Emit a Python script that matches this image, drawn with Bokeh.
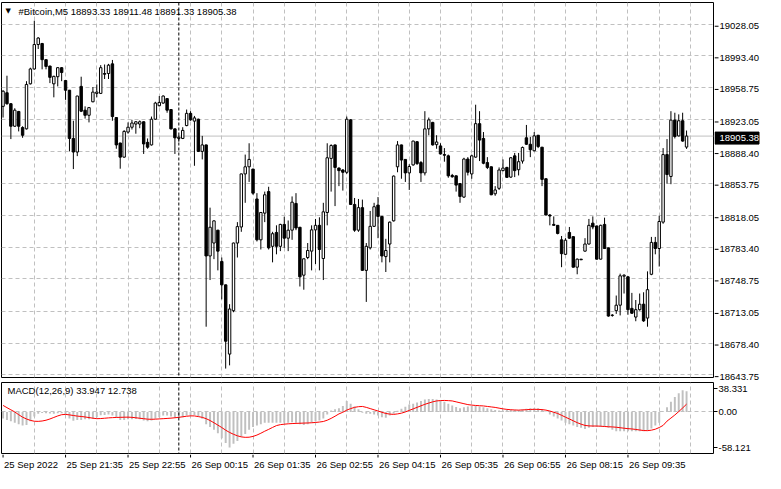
import datetime as dt
from bokeh.plotting import figure
from bokeh.layouts import column, row
from bokeh.models import (Range1d, FixedTicker, Span, Label, ColumnDataSource,
                          CustomJSTickFormatter)
from bokeh.core.properties import value
from bokeh.embed import file_html
from bokeh.resources import INLINE

# ---------------- data ----------------
symbol = "#Bitcoin,M5"
first_bar = dt.datetime(2022, 9, 25, 20, 15)
bar_minutes = 5

opens = [18938.0, 18952.9, 18940.9, 18916.2, 18932.4, 18914.7, 18913.3, 18962.7, 18979.0, 19005.8,
         19006.9, 18989.2, 18982.2, 18962.7, 18970.5, 18980.4, 18966.3, 18955.7, 18902.8, 18887.9,
         18959.9, 18933.8, 18928.2, 18943.0, 18952.2, 18952.2, 18974.0, 18974.0, 18984.6, 18925.7,
         18897.8, 18882.3, 18909.8, 18915.1, 18918.6, 18918.6, 18921.1, 18898.5, 18895.7, 18923.9,
         18938.7, 18941.6, 18946.5, 18934.5, 18913.3, 18902.8, 18902.8, 18916.9, 18930.3, 18921.8,
         18923.9, 18888.6, 18895.7, 18773.9, 18788.1, 18802.2, 18767.9, 18742.2, 18666.3, 18713.9,
         18788.1, 18805.7, 18863.9, 18871.7, 18869.2, 18836.4, 18791.6, 18820.9, 18844.5, 18784.5,
         18799.7, 18784.5, 18808.5, 18793.4, 18802.2, 18831.5, 18805.4, 18752.8, 18772.2, 18779.2,
         18802.5, 18807.5, 18771.1, 18821.6, 18880.9, 18895.7, 18870.3, 18868.2, 18865.7, 18923.2,
         18830.4, 18802.2, 18826.9, 18758.1, 18782.8, 18806.4, 18829.7, 18817.3, 18773.2, 18787.0,
         18812.4, 18871.7, 18895.7, 18879.8, 18865.0, 18873.8, 18899.2, 18876.3, 18865.0, 18913.3,
         18920.4, 18896.0, 18894.6, 18885.1, 18883.7, 18862.2, 18861.8, 18853.3, 18838.5, 18880.2,
         18863.9, 18882.3, 18919.0, 18902.8, 18876.3, 18871.7, 18842.1, 18848.1, 18867.5, 18871.0,
         18860.4, 18883.7, 18868.5, 18878.0, 18903.5, 18896.4, 18889.3, 18906.3, 18893.2, 18858.6,
         18818.8, 18808.5, 18807.5, 18791.6, 18775.7, 18799.7, 18795.1, 18761.6, 18770.4, 18779.2,
         18787.0, 18809.9, 18806.8, 18770.4, 18808.5, 18782.8, 18708.7, 18713.9, 18719.9, 18751.7,
         18751.0, 18716.4, 18706.9, 18715.0, 18721.0, 18705.8, 18753.8, 18788.8, 18782.1, 18811.0,
         18885.1, 18861.1, 18922.9, 18905.6, 18922.2, 18893.33]
highs = [18955.7, 18971.6, 18941.6, 18935.9, 18933.0, 18916.2, 18965.6, 18980.4, 19031.9, 19013.9,
         19007.6, 18989.5, 18982.5, 18971.6, 18981.1, 18981.1, 18966.6, 18956.0, 18922.2, 18949.6,
         18970.5, 18938.0, 18937.0, 18959.2, 18962.0, 18983.2, 18983.9, 18984.6, 18988.9, 18926.0,
         18898.0, 18911.9, 18920.4, 18923.2, 18921.8, 18922.5, 18921.5, 18902.8, 18926.8, 18943.0,
         18949.3, 18950.0, 18947.0, 18935.0, 18913.6, 18906.3, 18915.1, 18934.5, 18932.7, 18927.5,
         18924.5, 18905.6, 18896.0, 18826.9, 18813.1, 18802.5, 18772.2, 18742.5, 18721.0, 18788.5,
         18811.0, 18864.2, 18885.1, 18897.5, 18869.5, 18842.8, 18822.0, 18844.5, 18849.8, 18800.4,
         18807.5, 18809.2, 18817.0, 18812.8, 18839.2, 18842.8, 18805.7, 18771.0, 18788.1, 18807.5,
         18814.5, 18816.3, 18832.2, 18897.5, 18896.4, 18896.0, 18871.0, 18869.2, 18926.8, 18924.0,
         18837.5, 18836.4, 18835.7, 18788.1, 18823.3, 18832.2, 18838.5, 18817.6, 18792.7, 18811.7,
         18862.2, 18899.9, 18896.0, 18880.0, 18874.5, 18900.3, 18899.9, 18878.0, 18932.7, 18925.7,
         18921.0, 18906.3, 18897.5, 18892.2, 18885.1, 18863.9, 18862.0, 18853.6, 18881.6, 18882.3,
         18885.1, 18939.8, 18932.7, 18909.8, 18882.3, 18872.0, 18850.5, 18871.0, 18879.8, 18871.7,
         18882.3, 18886.9, 18886.9, 18893.9, 18917.6, 18904.5, 18909.8, 18906.6, 18893.5, 18859.0,
         18819.8, 18817.3, 18807.8, 18795.8, 18793.4, 18805.7, 18795.4, 18771.1, 18770.6, 18793.4,
         18814.5, 18817.3, 18807.2, 18808.2, 18815.9, 18783.0, 18710.1, 18730.5, 18754.5, 18753.8,
         18751.7, 18733.4, 18725.6, 18732.7, 18734.1, 18757.0, 18794.8, 18794.8, 18818.1, 18892.2,
         18902.1, 18932.7, 18931.0, 18929.2, 18931.0, 18911.48]
lows = [18925.7, 18939.8, 18902.1, 18915.5, 18910.5, 18903.5, 18912.6, 18962.0, 18978.3, 19000.9,
        18978.6, 18978.6, 18963.5, 18947.9, 18959.9, 18965.6, 18945.1, 18888.6, 18869.2, 18883.4,
        18931.7, 18924.6, 18920.4, 18942.5, 18947.9, 18951.5, 18968.0, 18968.0, 18922.2, 18891.5,
        18869.6, 18881.6, 18908.0, 18912.6, 18908.0, 18914.0, 18885.8, 18891.5, 18895.0, 18923.2,
        18938.0, 18940.9, 18931.0, 18912.6, 18885.8, 18899.2, 18902.1, 18916.2, 18922.2, 18872.8,
        18887.9, 18879.8, 18696.3, 18747.5, 18770.4, 18758.1, 18726.3, 18650.4, 18653.9, 18712.2,
        18772.2, 18800.4, 18832.2, 18855.1, 18841.0, 18789.8, 18781.0, 18811.0, 18781.0, 18766.9,
        18775.7, 18779.2, 18782.8, 18779.2, 18791.6, 18802.2, 18740.4, 18736.9, 18770.4, 18758.1,
        18765.1, 18758.1, 18747.5, 18807.5, 18844.5, 18828.6, 18850.5, 18845.6, 18863.9, 18830.0,
        18800.4, 18800.4, 18757.8, 18723.5, 18781.0, 18805.7, 18793.4, 18766.9, 18756.3, 18766.9,
        18811.7, 18865.7, 18858.6, 18855.1, 18846.3, 18872.8, 18873.8, 18855.1, 18862.2, 18906.3,
        18895.0, 18891.5, 18885.1, 18877.3, 18859.7, 18859.7, 18844.5, 18832.2, 18837.5, 18862.2,
        18858.6, 18881.6, 18878.0, 18874.5, 18869.2, 18840.6, 18839.9, 18846.3, 18866.8, 18859.7,
        18859.7, 18860.4, 18862.2, 18875.2, 18895.7, 18882.3, 18888.6, 18892.2, 18850.5, 18818.5,
        18807.5, 18807.2, 18797.6, 18761.6, 18775.0, 18792.7, 18761.3, 18753.8, 18769.5, 18778.5,
        18786.3, 18803.2, 18770.0, 18770.0, 18781.8, 18707.3, 18707.3, 18710.4, 18708.7, 18732.7,
        18709.4, 18710.4, 18702.3, 18713.9, 18701.6, 18696.3, 18752.8, 18775.7, 18762.3, 18809.2,
        18853.3, 18852.6, 18902.8, 18904.9, 18899.2, 18891.33]
closes = [18954.6, 18940.9, 18916.2, 18933.8, 18916.2, 18906.3, 18962.0, 18979.0, 19005.8, 19012.9,
          18989.2, 18981.8, 18969.8, 18970.9, 18980.4, 18975.1, 18955.7, 18902.8, 18887.9, 18949.3,
          18932.7, 18928.2, 18936.6, 18953.6, 18953.6, 18980.4, 18973.3, 18983.2, 18926.8, 18895.7,
          18882.3, 18910.5, 18915.1, 18919.7, 18921.1, 18921.1, 18896.8, 18893.2, 18923.9, 18941.6,
          18942.3, 18949.3, 18933.8, 18913.3, 18903.5, 18904.2, 18911.6, 18930.3, 18923.2, 18925.3,
          18888.6, 18895.7, 18773.9, 18805.4, 18812.4, 18779.2, 18742.2, 18680.4, 18715.7, 18788.1,
          18806.1, 18863.9, 18871.7, 18879.8, 18842.8, 18791.6, 18821.6, 18841.0, 18782.8, 18798.3,
          18784.5, 18808.5, 18793.4, 18802.2, 18832.9, 18804.6, 18751.0, 18770.8, 18779.9, 18802.5,
          18807.5, 18781.0, 18822.3, 18881.6, 18895.0, 18871.0, 18867.5, 18865.7, 18923.9, 18830.4,
          18802.2, 18826.9, 18758.1, 18784.5, 18806.4, 18827.9, 18817.3, 18773.9, 18779.9, 18811.0,
          18861.5, 18895.7, 18879.1, 18865.0, 18872.0, 18899.9, 18875.2, 18865.0, 18913.3, 18923.2,
          18895.7, 18898.9, 18885.8, 18884.4, 18861.8, 18860.8, 18851.6, 18839.2, 18880.2, 18865.7,
          18883.7, 18919.0, 18901.0, 18875.6, 18871.0, 18841.0, 18846.3, 18868.2, 18870.3, 18860.1,
          18881.6, 18867.5, 18877.3, 18892.9, 18896.4, 18890.4, 18905.6, 18893.9, 18857.9, 18818.8,
          18817.7, 18807.5, 18798.6, 18776.4, 18791.2, 18793.4, 18761.6, 18770.4, 18769.7, 18787.0,
          18807.5, 18805.7, 18770.4, 18807.5, 18782.1, 18708.0, 18709.0, 18719.9, 18752.1, 18752.8,
          18715.0, 18711.1, 18715.0, 18721.0, 18702.7, 18736.9, 18788.8, 18782.1, 18811.7, 18885.1,
          18863.2, 18922.9, 18904.9, 18922.2, 18899.9, 18905.38]

macd_main = [-10.8, -13.0, -15.4, -17.7, -20.0, -22.3, -21.4, -15.4, -7.6, -3.0,
             -1.7, -2.0, -2.6, -3.0, -2.0, -2.0, -5.0, -10.8, -14.5, -13.0,
             -13.0, -12.0, -12.0, -11.0, -8.5, -5.3, -5.0, -4.0, -6.0, -9.5,
             -13.0, -13.0, -12.0, -12.0, -11.7, -12.0, -14.0, -15.4, -14.0, -11.0,
             -8.5, -6.0, -6.0, -7.6, -9.5, -9.5, -8.5, -6.0, -5.0, -5.0,
             -7.6, -11.0, -20.0, -24.6, -29.0, -35.0, -43.0, -50.8, -58.121, -52.0,
             -47.5, -40.7, -36.0, -29.0, -24.6, -22.3, -20.0, -17.7, -17.7, -17.7,
             -17.7, -17.7, -17.7, -17.7, -16.8, -17.7, -20.0, -21.4, -20.0, -17.7,
             -15.4, -14.0, -10.8, -4.0, 2.5, 4.3, 6.0, 9.8, 18.0, 13.5,
             9.0, 4.3, -1.5, -3.0, -3.0, -4.0, -6.0, -8.5, -9.5, -6.0,
             -3.0, 2.0, 5.2, 8.4, 12.0, 13.5, 15.3, 18.0, 20.4, 21.3,
             21.3, 20.4, 19.0, 16.7, 13.5, 10.7, 8.0, 6.0, 7.5, 9.0,
             9.8, 9.8, 9.0, 7.5, 6.0, 4.3, 3.0, 2.5, 2.5, 3.0,
             3.4, 3.4, 3.0, 4.3, 5.2, 6.0, 6.0, 6.0, 4.3, 0.6,
             -4.0, -7.6, -10.8, -14.0, -17.7, -20.0, -22.3, -24.6, -26.0, -27.8,
             -26.0, -24.6, -24.6, -24.6, -24.6, -26.0, -29.2, -31.5, -31.5, -31.5,
             -31.5, -31.5, -31.5, -31.5, -31.5, -30.6, -27.0, -22.3, -17.7, 0.6,
             7.5, 16.7, 24.5, 30.5, 35.5, 33.947]
macd_signal = [10.7, 7.0, 3.5, 0.0, -4.5, -8.5, -11.5, -13.8, -15.2, -15.4,
               -14.8, -13.5, -11.5, -9.0, -6.5, -4.5, -4.0, -4.8, -5.8, -6.8,
               -7.4, -8.2, -9.2, -10.2, -11.0, -10.8, -10.3, -9.7, -9.3, -9.0,
               -8.8, -8.6, -8.5, -8.8, -9.5, -10.3, -11.0, -11.8, -12.0, -11.8,
               -11.4, -11.0, -10.6, -10.1, -9.5, -8.8, -7.9, -7.0, -6.4, -6.5,
               -7.6, -8.8, -11.0, -14.0, -17.7, -21.5, -25.5, -29.8, -33.5, -36.5,
               -39.0, -40.8, -41.5, -41.3, -40.0, -37.8, -34.8, -31.5, -28.5, -25.3,
               -22.3, -20.8, -20.0, -19.4, -19.0, -18.7, -18.5, -18.2, -18.0, -17.7,
               -17.2, -16.5, -15.6, -13.5, -10.5, -7.0, -3.2, -0.5, 3.0, 5.5,
               7.5, 8.6, 9.0, 7.5, 5.5, 3.5, 1.5, -0.5, -2.5, -3.5,
               -4.0, -3.2, -2.0, 0.0, 2.5, 5.0, 7.5, 10.0, 12.5, 14.5,
               16.5, 18.0, 18.6, 18.8, 18.5, 18.0, 16.5, 15.0, 13.5, 12.0,
               11.2, 10.6, 10.2, 9.8, 9.0, 8.2, 7.4, 6.2, 5.0, 4.2,
               3.6, 3.2, 3.0, 3.3, 3.7, 4.1, 4.3, 4.2, 3.8, 3.0,
               1.5, -0.5, -2.5, -5.5, -8.5, -11.5, -14.5, -17.5, -20.0, -22.0,
               -22.8, -23.0, -23.0, -23.3, -23.8, -24.2, -24.5, -25.0, -25.8, -26.6,
               -27.3, -27.8, -28.6, -29.5, -30.4, -30.6, -29.8, -28.2, -25.5, -22.0,
               -15.0, -10.0, -5.0, 0.6, 6.5, 12.738]

price_ticks = [18643.75, 18678.40, 18713.05, 18748.75, 18783.40, 18818.05,
               18853.75, 18888.40, 18923.05, 18958.75, 18993.40, 19028.05]
macd_ticks = [-58.121, 0.0, 38.331]
macd_tick_labels = ["-58.121", "0.00", "38.331"]
label_bars = [0, 16, 32, 48, 64, 80, 96, 112, 128, 144, 160]
time_labels = ["25 Sep 2022", "25 Sep 21:35", "25 Sep 22:55", "26 Sep 00:15",
               "26 Sep 01:35", "26 Sep 02:55", "26 Sep 04:15", "26 Sep 05:35",
               "26 Sep 06:55", "26 Sep 08:15", "26 Sep 09:35"]

# ---------------- derived / layout constants ----------------
n = len(closes)
idx = list(range(n))
times = [first_bar + dt.timedelta(minutes=bar_minutes * i) for i in idx]
sep_bar = next(i for i in range(1, n) if times[i].date() != times[i - 1].date())

FONT = "Liberation Sans"
FS = "9.5px"
GRID = "#c0c0c0"
DASH = "4 3"
FW = 712            # frame width of both panels
MAIN_H = 375        # main frame height
MAIN_TOP, MAIN_BOT = 2, 4
MACD_H = 71
AXW = 51            # width of the price-scale column
X0, X1 = -0.4, 181.9
P_LO, P_HI = 18640.6, 19051.9
M_PADPX = 6
M_PAD = M_PADPX * (macd_ticks[-1] - macd_ticks[0]) / (MACD_H - 2 * M_PADPX)
M_LO, M_HI = macd_ticks[0] - M_PAD, macd_ticks[-1] + M_PAD

xr = Range1d(X0, X1)
vgrid_ticks = list(range(8, n + 1, 8))

src = ColumnDataSource(dict(
    x=idx, o=opens, h=highs, l=lows, c=closes,
    top=[max(o, c) for o, c in zip(opens, closes)],
    bottom=[min(o, c) for o, c in zip(opens, closes)],
    fill=["white" if c >= o else "black" for o, c in zip(opens, closes)],
))

# ---------------- main price panel ----------------
p = figure(frame_width=FW, frame_height=MAIN_H, x_range=xr, y_range=Range1d(P_LO, P_HI),
           x_axis_location=None, y_axis_location=None, output_backend="svg",
           toolbar_location=None, min_border_left=1, min_border_right=1,
           min_border_top=MAIN_TOP, min_border_bottom=MAIN_BOT,
           background_fill_color="white", border_fill_color="white")
p.outline_line_color = "black"
p.outline_line_width = 1
p.ygrid.ticker = FixedTicker(ticks=price_ticks)
p.ygrid.grid_line_color = GRID
p.ygrid.grid_line_dash = DASH
p.xgrid.ticker = FixedTicker(ticks=vgrid_ticks)
p.xgrid.grid_line_color = GRID
p.xgrid.grid_line_dash = DASH

p.add_layout(Span(location=closes[-1], dimension="width", line_color="#c0c0c0",
                  line_width=1, level="underlay"))
p.add_layout(Span(location=sep_bar, dimension="height", line_color="black",
                  line_dash="3 2", line_width=1))

p.segment(x0="x", y0="h", x1="x", y1="l", source=src, line_color="black", line_width=1)
p.vbar(x="x", top="top", bottom="bottom", width=0.62, fill_color="fill",
       line_color="black", line_width=1, source=src)

p.add_layout(Label(x=X0, y=P_HI, x_offset=4, y_offset=-4, text="▼",
                   text_font="DejaVu Sans", text_font_size="7px", text_color="black",
                   text_baseline="top"))
p.add_layout(Label(x=X0, y=P_HI, x_offset=17, y_offset=-3,
                   text=f"{symbol}  {opens[-1]:.2f} {highs[-1]:.2f} {lows[-1]:.2f} {closes[-1]:.2f}",
                   text_font=FONT, text_font_size=FS, text_color="black",
                   text_baseline="top"))

# ---------------- price scale column (right of the main panel) ----------------
ppx = (P_HI - P_LO) / MAIN_H
ps = figure(frame_width=AXW, frame_height=MAIN_H + MAIN_TOP + MAIN_BOT,
            x_range=Range1d(0, AXW),
            y_range=Range1d(P_LO - MAIN_BOT * ppx, P_HI + MAIN_TOP * ppx),
            x_axis_location=None, y_axis_location=None, output_backend="svg",
            toolbar_location=None, min_border=0, min_border_left=0, min_border_right=0,
            min_border_top=0, min_border_bottom=0,
            background_fill_color="white", border_fill_color="white")
ps.outline_line_color = None
ps.grid.visible = False
ps.segment(x0=0, y0=price_ticks, x1=4, y1=price_ticks, line_color="black", line_width=1)
ps.text(x=5, y=price_ticks, text=[f"{t:.2f}" for t in price_ticks],
        text_align="left", text_baseline="middle", text_font=value(FONT),
        text_font_size=value(FS), text_color="black")
ps.rect(x=22.5, y=closes[-1], width=44, height=12, height_units="screen",
        fill_color="black", line_color="black")
ps.text(x=5, y=closes[-1], text=[f"{closes[-1]:.2f}"], text_align="left",
        text_baseline="middle", text_font=value(FONT), text_font_size=value(FS),
        text_color="white")

# ---------------- MACD panel ----------------
p2 = figure(frame_width=FW, frame_height=MACD_H, x_range=xr, y_range=Range1d(M_LO, M_HI),
            x_axis_location=None, y_axis_location="right", output_backend="svg",
            toolbar_location=None, min_border_left=1, min_border_right=AXW + 1,
            min_border_top=1, min_border_bottom=1,
            background_fill_color="white", border_fill_color="white")
p2.outline_line_color = "black"
p2.outline_line_width = 1
ax = p2.yaxis[0]
ax.ticker = FixedTicker(ticks=macd_ticks)
ax.formatter = CustomJSTickFormatter(
    args=dict(vals=macd_ticks, labs=macd_tick_labels),
    code="for (let i = 0; i < vals.length; i++) { if (Math.abs(vals[i] - tick) < 1e-6) return labs[i]; } return tick.toFixed(2);")
ax.axis_line_color = None
ax.major_tick_line_color = "black"
ax.major_tick_in = 0
ax.major_tick_out = 4
ax.minor_tick_line_color = None
ax.major_label_standoff = 1
ax.major_label_text_font = FONT
ax.major_label_text_font_size = FS
ax.major_label_text_color = "black"
p2.ygrid.ticker = FixedTicker(ticks=[0])
p2.ygrid.grid_line_color = GRID
p2.ygrid.grid_line_dash = DASH
p2.xgrid.ticker = FixedTicker(ticks=vgrid_ticks)
p2.xgrid.grid_line_color = GRID
p2.xgrid.grid_line_dash = DASH
p2.add_layout(Span(location=sep_bar, dimension="height", line_color="black",
                   line_dash="3 2", line_width=1))

p2.vbar(x=idx, top=macd_main, bottom=0, width=0.5, fill_color="#c0c0c0", line_color=None)
p2.line(idx, macd_signal, line_color="#ff0000", line_width=1)
p2.add_layout(Label(x=X0, y=M_HI, x_offset=6, y_offset=-2,
                    text=f"MACD(12,26,9) {macd_main[-1]:.3f} {macd_signal[-1]:.3f}",
                    text_font=FONT, text_font_size=FS, text_color="black",
                    text_baseline="top"))

# ---------------- time labels strip ----------------
STRIP_H = 18
p3 = figure(frame_width=FW, frame_height=STRIP_H, x_range=xr, y_range=Range1d(0, STRIP_H),
            x_axis_location=None, y_axis_location=None, output_backend="svg",
            toolbar_location=None, min_border_left=1, min_border_right=AXW + 1,
            min_border_top=0, min_border_bottom=0,
            background_fill_color="white", border_fill_color="white")
p3.outline_line_color = None
p3.grid.visible = False
p3.segment(x0=label_bars, y0=STRIP_H, x1=label_bars, y1=STRIP_H - 3,
           line_color="black", line_width=1)
p3.text(x=label_bars, y=STRIP_H - 10, text=time_labels, x_offset=1,
        text_align="left", text_baseline="middle", text_font=value(FONT),
        text_font_size=value(FS), text_color="black")

layout = column(row(p, ps, spacing=0), p2, p3, spacing=0)
open("out.html", "w").write(file_html(layout, INLINE))
